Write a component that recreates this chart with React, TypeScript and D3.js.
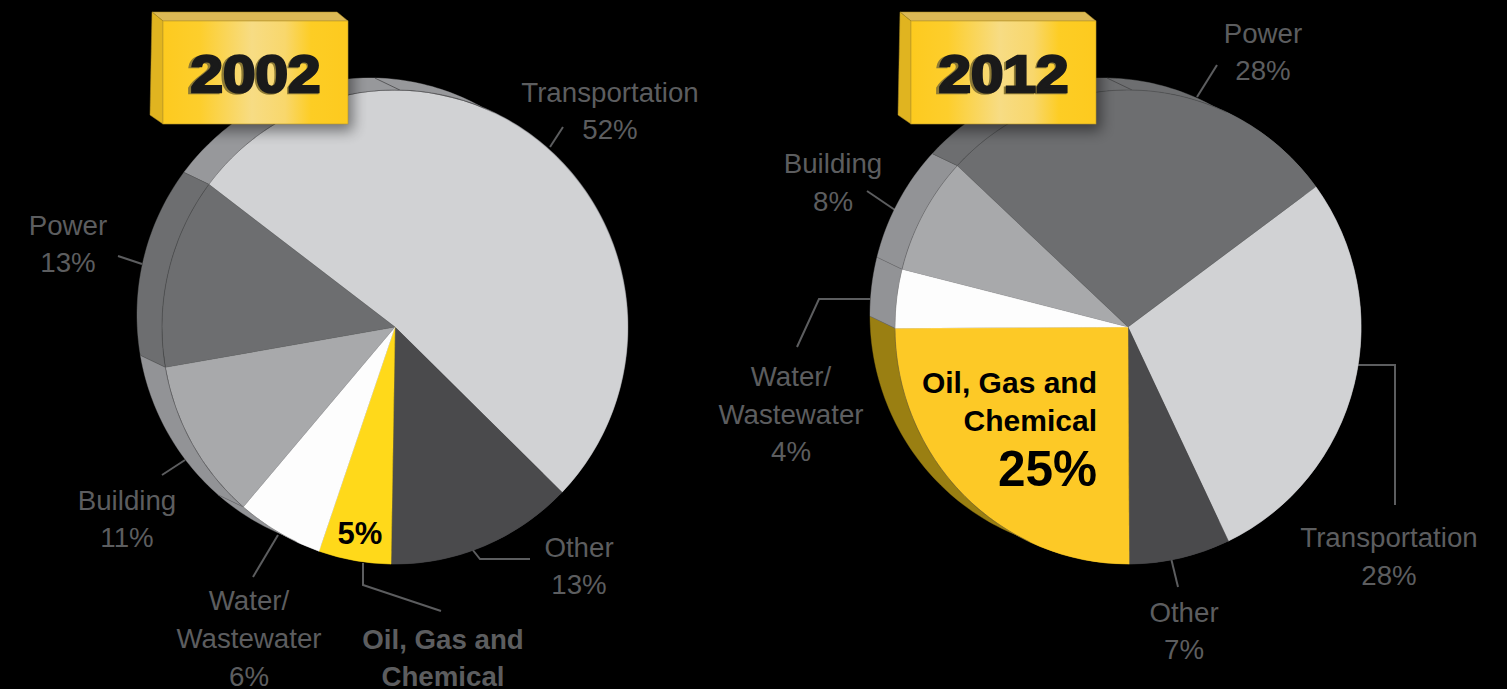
import React from "react";
import * as d3 from "d3";

// Market share by end use, in percent
const categories = ["Transportation", "Other", "Oil, Gas and Chemical", "Water/Wastewater", "Building", "Power"];
const values2002 = [52, 13, 5, 6, 11, 13];
const values2012 = [28, 7, 25, 4, 8, 28];

const faceColors2002 = ["#d1d2d4", "#4a4a4c", "#ffd91a", "#fdfdfd", "#a8a9ab", "#6d6e70"];
const faceColors2012 = ["#d1d2d4", "#4a4a4c", "#fdc926", "#fdfdfd", "#a8a9ab", "#6d6e70"];
const wallColors2002 = ["#97989b", "#4a4a4c", "#8f7a10", "#929396", "#929396", "#6d6e70"];
const wallColors2012 = ["#97989b", "#4a4a4c", "#9a7f12", "#929396", "#929396", "#6d6e70"];

const W = 1507;
const H = 689;
const RX = 233;
const RY = 237;
const DEPTH_X = -25;
const DEPTH_Y = -12;
const LABEL_COLOR = "#5c5d5f";
const FONT = "'Liberation Sans', Arial, sans-serif";

const rad = (deg: number) => (deg * Math.PI) / 180;

type PieProps = {
  cx: number;
  cy: number;
  values: number[];
  faces: string[];
  walls: string[];
  startDeg: number;
  seamDeg: number;
};

function Pie({ cx, cy, values, faces, walls, startDeg, seamDeg }: PieProps) {
  const pie = d3
    .pie<number>()
    .sort(null)
    .startAngle(rad(startDeg))
    .endAngle(rad(startDeg + 360));
  const slices = pie(values);
  const unitArc = d3.arc<d3.PieArcDatum<number>>().innerRadius(0).outerRadius(1);
  const front = (a: number): [number, number] => [cx + RX * Math.sin(a), cy - RY * Math.cos(a)];
  const back = (a: number): [number, number] => {
    const [x, y] = front(a);
    return [x + DEPTH_X, y + DEPTH_Y];
  };
  const line = d3.line();
  const sample = (a0: number, a1: number) => {
    const n = Math.max(2, Math.ceil(Math.abs(a1 - a0) / 0.02));
    return d3.range(n + 1).map((i) => a0 + ((a1 - a0) * i) / n);
  };
  const wallPath = (a0: number, a1: number) => {
    const angles = sample(a0, a1);
    return line([...angles.map(back), ...angles.slice().reverse().map(front)]) + "Z";
  };
  // The rim hairline runs only where the wall shows behind the top face
  const rim = sample(rad(205), rad(385)).map(front);

  return (
    <g>
      {slices.map((s, i) => (
        <path key={`w${i}`} d={wallPath(s.startAngle, s.endAngle)} fill={walls[i]} stroke={walls[i]} strokeWidth={0.4} />
      ))}
      {slices.map((s, i) => (
        <path
          key={`b${i}`}
          d={line([back(s.startAngle), front(s.startAngle)]) as string}
          stroke="#3c3c3e"
          strokeWidth={0.5}
          opacity={0.5}
        />
      ))}
      <path d={line([back(rad(seamDeg)), front(rad(seamDeg))]) as string} stroke="#3c3c3e" strokeWidth={0.7} />
      {slices.map((s, i) => (
        <path
          key={`f${i}`}
          d={unitArc(s) as string}
          transform={`translate(${cx},${cy}) scale(${RX},${RY})`}
          fill={faces[i]}
          stroke={faces[i]}
          strokeWidth={0.4}
          vectorEffect="non-scaling-stroke"
        />
      ))}
      <path d={line(rim) as string} fill="none" stroke="#3a3a3c" strokeWidth={0.6} strokeOpacity={0.7} />
    </g>
  );
}

function Badge({ x, label, id }: { x: number; label: string; id: string }) {
  // x is the left edge of the front face
  const w = 185;
  const top = 21;
  const h = 103;
  return (
    <g>
      <rect x={x} y={top} width={w} height={h} fill="#000" opacity={0.45} filter="url(#badgeShadow)" transform="translate(5,7)" />
      <path d={`M${x - 11},12 H${x + w - 11} L${x + w},${top} H${x} Z`} fill="#dcb955" stroke="#a98a22" strokeWidth={0.5} />
      <path d={`M${x - 11},12 L${x},${top} V${top + h} L${x - 13},${top + h - 9} Z`} fill="#e0b420" stroke="#a98a22" strokeWidth={0.5} />
      <rect x={x} y={top} width={w} height={h} fill={`url(#${id})`} stroke="#b8962a" strokeWidth={0.6} />
      <text
        x={x + w / 2 - 2}
        y={93}
        textAnchor="middle"
        fontFamily={FONT}
        fontWeight={700}
        fontSize={52}
        textLength={132}
        lengthAdjust="spacingAndGlyphs"
        fill="#8d7a35"
        stroke="#8d7a35"
        strokeWidth={2.5}
      >
        {label}
      </text>
      <text
        x={x + w / 2}
        y={91.5}
        textAnchor="middle"
        fontFamily={FONT}
        fontWeight={700}
        fontSize={51}
        textLength={130}
        lengthAdjust="spacingAndGlyphs"
        fill="#1a1a1a"
        stroke="#1a1a1a"
        strokeWidth={2.5}
      >
        {label}
      </text>
    </g>
  );
}

function Label({ x, lines, bold = false, color = LABEL_COLOR, size = 27.7, anchor = "middle" }: {
  x: number;
  lines: [string, number][];
  bold?: boolean;
  color?: string;
  size?: number;
  anchor?: string;
}) {
  return (
    <>
      {lines.map(([t, y]) => (
        <text key={t + y} x={x} y={y} textAnchor={anchor as any} fontFamily={FONT} fontSize={size} fontWeight={bold ? 700 : 400} fill={color}>
          {t}
        </text>
      ))}
    </>
  );
}

const pct = (v: number) => `${v}%`;
const leaderLines: [number, number][][] = [
  [[550, 147], [563, 127]],
  [[118, 256], [142, 264]],
  [[162, 475], [185, 460]],
  [[253, 577], [278, 535]],
  [[363, 563], [363, 585], [441, 611]],
  [[472, 549], [480, 559], [530, 559]],
  [[1217, 65], [1197, 97]],
  [[867, 191], [895, 210]],
  [[797, 347], [819, 299], [870, 299]],
  [[1357, 365], [1395, 365], [1395, 505]],
  [[1171, 558], [1178, 587]],
];

export default function App() {
  const line = d3.line();
  return (
    <svg width={W} height={H} viewBox={`0 0 ${W} ${H}`} style={{ position: "fixed", left: 0, top: 0, display: "block", background: "#000" }}>
      <defs>
        {["g2002", "g2012"].map((id) => (
          <linearGradient key={id} id={id} x1="0" x2="1" y1="0" y2="0">
            <stop offset="0" stopColor="#fdca1f" />
            <stop offset="0.2" stopColor="#fdce2c" />
            <stop offset="0.48" stopColor="#f7dc84" />
            <stop offset="0.66" stopColor="#f8d76c" />
            <stop offset="0.8" stopColor="#fdcd24" />
            <stop offset="1" stopColor="#fdca1f" />
          </linearGradient>
        ))}
        <filter id="badgeShadow" x="-20%" y="-20%" width="140%" height="140%">
          <feGaussianBlur stdDeviation="7" />
        </filter>
      </defs>

      {leaderLines.map((pts, i) => (
        <path key={i} d={line(pts) as string} fill="none" stroke={LABEL_COLOR} strokeWidth={2} />
      ))}

      <Pie cx={395} cy={327} values={values2002} faces={faceColors2002} walls={wallColors2002} startDeg={-53} seamDeg={1.2} />
      <Pie cx={1128} cy={327} values={values2012} faces={faceColors2012} walls={wallColors2012} startDeg={53.7} seamDeg={1} />

      <Badge x={163} label="2002" id="g2002" />
      <Badge x={911} label="2012" id="g2012" />

      <Label x={610} lines={[[categories[0], 102], [pct(values2002[0]), 139]]} />
      <Label x={68} lines={[[categories[5], 235], [pct(values2002[5]), 272]]} />
      <Label x={127} lines={[[categories[4], 510], [pct(values2002[4]), 547]]} />
      <Label x={249} lines={[["Water/", 610], ["Wastewater", 648], [pct(values2002[3]), 686]]} />
      <Label x={443} bold lines={[["Oil, Gas and", 649], ["Chemical", 686]]} />
      <Label x={579} lines={[[categories[1], 557], [pct(values2002[1]), 594]]} />
      <Label x={360} bold color="#000" size={31} lines={[[pct(values2002[2]), 544]]} />

      <Label x={1263} lines={[[categories[5], 43], [pct(values2012[5]), 80]]} />
      <Label x={833} lines={[[categories[4], 173], [pct(values2012[4]), 211]]} />
      <Label x={791} lines={[["Water/", 386], ["Wastewater", 424], [pct(values2012[3]), 461]]} />
      <Label x={1389} lines={[[categories[0], 547], [pct(values2012[0]), 585]]} />
      <Label x={1184} lines={[[categories[1], 622], [pct(values2012[1]), 659]]} />
      <Label x={1097} anchor="end" bold color="#000" size={30} lines={[["Oil, Gas and", 393], ["Chemical", 431]]} />
      <Label x={1097} anchor="end" bold color="#000" size={49.5} lines={[[pct(values2012[2]), 486]]} />
    </svg>
  );
}
